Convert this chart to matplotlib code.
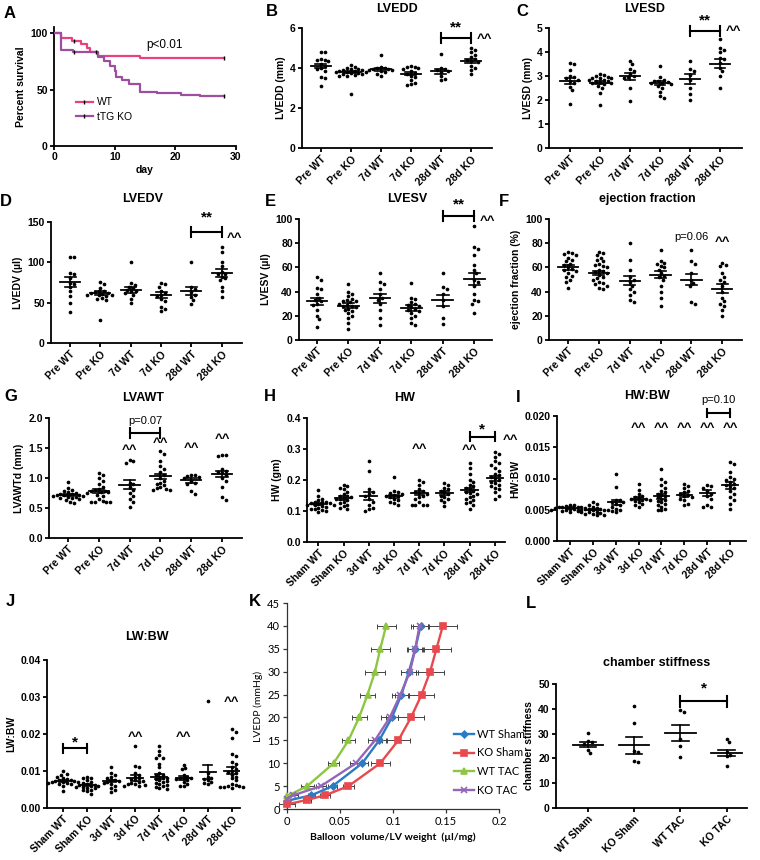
import numpy as np
import matplotlib
matplotlib.use("Agg")
import matplotlib.pyplot as plt
from matplotlib.lines import Line2D
from matplotlib.ticker import FuncFormatter

# ---------------- data ----------------
surv_wt_days = [0, 1.2, 3.0, 4.5, 5.4, 6.0, 7.2, 14.2, 28]
surv_wt_pct = [100, 96, 93, 90, 87, 83, 80, 78, 78]
surv_ko_days = [0, 1.2, 3.2, 7.2, 8.3, 9.2, 10.0, 10.3, 11.2, 12.3, 14.2, 17, 21, 24, 28]
surv_ko_pct = [100, 85, 83, 79, 75, 71, 66, 61, 58, 55, 48, 47, 45, 44, 44]
censor_wt_days = [3.3, 28]
censor_ko_days = [3.3, 7.0, 28]

echo_labels = ["Pre WT", "Pre KO", "7d WT", "7d KO", "28d WT", "28d KO"]
weight_labels = ["Sham WT", "Sham KO", "3d WT", "3d KO", "7d WT", "7d KO", "28d WT", "28d KO"]
stiff_labels = ["WT Sham", "KO Sham", "WT TAC", "KO TAC"]

# B  LVEDD
lvedd = [
    [4.8, 4.8, 4.45, 4.4, 4.4, 4.35, 4.2, 4.1, 4.0, 3.95, 3.85, 3.55, 3.5, 3.1],
    [4.15, 4.05, 4.0, 3.95, 3.95, 3.9, 3.9, 3.85, 3.85, 3.8, 3.8, 3.8, 3.75, 3.75, 3.7, 3.7, 3.65, 3.6, 3.6, 2.72],
    [4.65, 4.05, 4.0, 4.0, 3.95, 3.95, 3.9, 3.9, 3.85, 3.8, 3.7, 3.6],
    [4.1, 4.05, 4.05, 4.0, 3.95, 3.85, 3.75, 3.7, 3.6, 3.55, 3.4, 3.25, 3.2, 3.15],
    [4.68, 4.0, 3.95, 3.9, 3.85, 3.8, 3.6, 3.45, 3.4],
    [5.02, 4.9, 4.8, 4.65, 4.55, 4.45, 4.4, 4.35, 4.3, 4.1, 4.0, 3.9, 3.7],
]
lvedd_mean = [4.1, 3.8, 3.93, 3.72, 3.83, 4.35]
lvedd_sem = [0.12, 0.07, 0.08, 0.08, 0.13, 0.12]

# C  LVESD
lvesd = [
    [3.55, 3.48, 3.25, 3.0, 2.95, 2.9, 2.85, 2.8, 2.7, 2.55, 2.4, 1.85],
    [3.1, 3.05, 3.0, 2.95, 2.92, 2.9, 2.9, 2.85, 2.85, 2.8, 2.78, 2.75, 2.72, 2.7, 2.65, 2.6, 2.5, 2.3, 1.78],
    [3.62, 3.48, 3.3, 3.2, 3.1, 3.0, 2.95, 2.9, 2.5, 1.97],
    [3.4, 2.95, 2.85, 2.8, 2.78, 2.75, 2.72, 2.7, 2.65, 2.6, 2.5, 2.35, 2.15, 2.1],
    [3.62, 3.28, 3.2, 3.05, 2.85, 2.5, 2.25, 2.0],
    [4.55, 4.17, 4.1, 4.0, 3.75, 3.7, 3.55, 3.35, 3.2, 3.0, 2.5],
]
lvesd_mean = [2.8, 2.72, 2.98, 2.7, 2.88, 3.52]
lvesd_sem = [0.13, 0.07, 0.14, 0.08, 0.2, 0.17]

# D  LVEDV
lvedv = [
    [106, 106, 87, 86, 80, 75, 73, 70, 65, 58, 50, 38],
    [76, 73, 68, 65, 64, 63, 62, 62, 61, 60, 60, 59, 58, 56, 55, 53, 28],
    [100, 74, 72, 70, 68, 66, 65, 64, 62, 60, 55, 50],
    [74, 73, 70, 65, 62, 60, 58, 55, 52, 45, 42, 40],
    [101, 70, 67, 63, 60, 57, 53, 48],
    [119, 113, 100, 95, 88, 86, 85, 82, 80, 78, 70, 65, 57],
]
lvedv_mean = [75.5, 61.5, 66, 59.5, 64, 86.5]
lvedv_sem = [6, 2.5, 3.5, 3.2, 5, 5]

# E  LVESV
lvesv = [
    [52, 50, 43, 42, 38, 35, 33, 32, 30, 29, 25, 20, 17, 11],
    [46, 40, 38, 36, 34, 33, 32, 32, 31, 30, 29, 28, 28, 27, 26, 25, 24, 22, 20, 18, 14, 9.5],
    [55, 48, 46, 42, 38, 35, 33, 30, 25, 18, 12],
    [47.5, 35, 34, 31, 30, 29, 28, 27, 26, 25, 24, 22, 20, 18, 14, 12],
    [55, 44, 42, 38, 33, 28, 18, 13],
    [94.5, 77, 75, 70, 62, 58, 55, 50, 48, 45, 38, 33, 32, 30, 22],
]
lvesv_mean = [32, 28.5, 34.5, 26.5, 33, 50.5]
lvesv_sem = [3, 1.8, 3.8, 2.2, 4.5, 5]

# F  ejection fraction
ef = [
    [73, 72, 71, 70, 68, 66, 65, 63, 62, 60, 59, 58, 57, 55, 53, 52, 50, 48, 43],
    [73, 72, 70, 68, 66, 65, 63, 62, 61, 60, 58, 57, 56, 55, 54, 52, 51, 50, 48, 47, 46, 45, 43, 42],
    [80, 66, 58, 52, 50, 48, 45, 42, 40, 37, 33, 31],
    [74, 65, 64, 63, 61, 60, 58, 55, 53, 52, 50, 45, 40, 35, 28],
    [74, 65, 63, 55, 50, 47, 45, 31, 30],
    [64, 62, 61, 55, 52, 50, 48, 45, 40, 35, 32, 30, 28, 25, 20],
]
ef_mean = [60, 55.5, 49, 54, 50, 42.5]
ef_sem = [1.8, 1.8, 3.7, 3, 4.5, 3.8]

# G  LVAWTd
lvawt = [
    [0.94, 0.83, 0.8, 0.78, 0.76, 0.75, 0.74, 0.73, 0.72, 0.72, 0.71, 0.7, 0.7, 0.69, 0.68, 0.67, 0.66, 0.65, 0.63, 0.6, 0.58],
    [1.08, 1.05, 1.0, 0.95, 0.9, 0.85, 0.82, 0.8, 0.79, 0.78, 0.77, 0.76, 0.75, 0.72, 0.7, 0.65, 0.62, 0.6, 0.6, 0.6, 0.6],
    [1.3, 1.28, 1.25, 0.92, 0.9, 0.85, 0.8, 0.75, 0.7, 0.65, 0.6, 0.51],
    [1.45, 1.4, 1.28, 1.2, 1.15, 1.1, 1.05, 1.0, 0.95, 0.92, 0.9, 0.88, 0.85, 0.83, 0.82, 0.8, 0.8],
    [1.05, 1.05, 1.03, 1.02, 1.0, 0.95, 0.92, 0.9, 0.78, 0.74],
    [1.39, 1.38, 1.37, 1.15, 1.12, 1.1, 1.08, 1.05, 1.0, 0.95, 0.85, 0.68, 0.63],
]
lvawt_mean = [0.72, 0.78, 0.89, 1.03, 0.96, 1.07]
lvawt_sem = [0.02, 0.03, 0.07, 0.045, 0.04, 0.055]

# H  HW
hw = [
    [0.168, 0.15, 0.14, 0.135, 0.13, 0.128, 0.125, 0.123, 0.12, 0.118, 0.115, 0.112, 0.11, 0.108, 0.105, 0.102, 0.1, 0.098, 0.12, 0.13, 0.125],
    [0.185, 0.18, 0.175, 0.17, 0.16, 0.155, 0.15, 0.145, 0.14, 0.138, 0.135, 0.13, 0.125, 0.12, 0.115, 0.11, 0.108, 0.142, 0.148],
    [0.26, 0.23, 0.17, 0.16, 0.155, 0.15, 0.14, 0.13, 0.12, 0.11, 0.105, 0.1],
    [0.21, 0.165, 0.16, 0.158, 0.155, 0.152, 0.15, 0.148, 0.145, 0.14, 0.135, 0.13, 0.125, 0.12],
    [0.2, 0.195, 0.185, 0.17, 0.165, 0.16, 0.158, 0.155, 0.15, 0.145, 0.14, 0.13, 0.12, 0.12, 0.12, 0.12],
    [0.19, 0.185, 0.175, 0.17, 0.165, 0.16, 0.155, 0.15, 0.145, 0.14, 0.135, 0.13, 0.115],
    [0.255, 0.24, 0.22, 0.2, 0.195, 0.185, 0.18, 0.175, 0.17, 0.165, 0.16, 0.158, 0.155, 0.15, 0.145, 0.14, 0.135, 0.13, 0.125, 0.12, 0.105],
    [0.29, 0.285, 0.275, 0.26, 0.255, 0.25, 0.24, 0.23, 0.22, 0.215, 0.21, 0.205, 0.2, 0.195, 0.19, 0.185, 0.18, 0.175, 0.17, 0.16, 0.15, 0.14],
]
hw_mean = [0.123, 0.142, 0.148, 0.148, 0.158, 0.157, 0.168, 0.205]
hw_sem = [0.004, 0.005, 0.013, 0.005, 0.006, 0.006, 0.007, 0.009]

# I  HW:BW
hwbw = [
    [0.0058, 0.0057, 0.0056, 0.0055, 0.0055, 0.0054, 0.0054, 0.0053, 0.0053, 0.0052, 0.0052, 0.0051, 0.005, 0.005, 0.0049, 0.0048, 0.0047, 0.0046],
    [0.0063, 0.006, 0.0058, 0.0055, 0.0053, 0.0052, 0.0051, 0.005, 0.005, 0.0049, 0.0048, 0.0048, 0.0047, 0.0046, 0.0045, 0.0044, 0.0043, 0.0042, 0.0041, 0.0052, 0.0049],
    [0.0107, 0.0086, 0.0066, 0.0065, 0.0063, 0.0062, 0.006, 0.0058, 0.0055, 0.0052, 0.0049, 0.0046],
    [0.0092, 0.0082, 0.0075, 0.0072, 0.007, 0.0069, 0.0068, 0.0067, 0.0066, 0.0065, 0.0064, 0.0062, 0.006, 0.0058, 0.0055],
    [0.0115, 0.0099, 0.0095, 0.009, 0.0085, 0.008, 0.0078, 0.0076, 0.0074, 0.0072, 0.007, 0.0068, 0.0066, 0.0064, 0.0062, 0.006, 0.0058, 0.0055, 0.0052, 0.005, 0.0049],
    [0.0091, 0.0088, 0.0085, 0.008, 0.0078, 0.0075, 0.0073, 0.0072, 0.007, 0.0068, 0.0065, 0.006, 0.0057],
    [0.0089, 0.0088, 0.0085, 0.008, 0.0075, 0.0072, 0.0068, 0.0058, 0.0055, 0.0055],
    [0.0126, 0.0124, 0.011, 0.0102, 0.0099, 0.0098, 0.0095, 0.0092, 0.009, 0.0088, 0.0085, 0.008, 0.0075, 0.007, 0.0065, 0.006, 0.0052],
]
hwbw_mean = [0.0053, 0.005, 0.0062, 0.0068, 0.0072, 0.0074, 0.0077, 0.0089]
hwbw_sem = [0.0001, 0.0001, 0.0004, 0.0002, 0.0004, 0.0003, 0.0005, 0.0005]

# J  LW:BW
lwbw = [
    [0.0099, 0.0092, 0.009, 0.0085, 0.008, 0.0078, 0.0076, 0.0075, 0.0073, 0.0072, 0.0071, 0.007, 0.0069, 0.0068, 0.0067, 0.0066, 0.0065, 0.006, 0.0045],
    [0.0085, 0.0082, 0.008, 0.0075, 0.007, 0.0068, 0.0065, 0.0063, 0.0062, 0.006, 0.0059, 0.0058, 0.0056, 0.0055, 0.0053, 0.005, 0.0048, 0.0045, 0.0039],
    [0.011, 0.0095, 0.0088, 0.0085, 0.008, 0.0077, 0.0075, 0.0073, 0.007, 0.0068, 0.0065, 0.006, 0.0055, 0.005, 0.0042],
    [0.0168, 0.0113, 0.011, 0.0095, 0.009, 0.0085, 0.008, 0.0078, 0.0075, 0.0072, 0.007, 0.0068, 0.0066, 0.0065, 0.0063, 0.006, 0.006],
    [0.0168, 0.0155, 0.0142, 0.0135, 0.0135, 0.012, 0.011, 0.0095, 0.009, 0.0088, 0.0085, 0.0082, 0.008, 0.0078, 0.0075, 0.0072, 0.007, 0.0068, 0.0065, 0.0062, 0.006, 0.0058, 0.0055, 0.0052],
    [0.0117, 0.0108, 0.0105, 0.009, 0.0085, 0.0082, 0.008, 0.008, 0.0078, 0.0075, 0.007, 0.0065, 0.006, 0.006],
    [0.029, 0.0095, 0.0085, 0.008, 0.0078, 0.0075, 0.007, 0.0067, 0.0065],
    [0.0213, 0.0205, 0.019, 0.0145, 0.014, 0.0125, 0.012, 0.011, 0.0105, 0.01, 0.0098, 0.0095, 0.009, 0.0085, 0.008, 0.0075, 0.0065, 0.0062, 0.006, 0.006, 0.0058, 0.0058, 0.0056, 0.0055],
]
lwbw_mean = [0.0072, 0.0062, 0.0073, 0.0081, 0.0085, 0.0082, 0.0097, 0.0101]
lwbw_sem = [0.0003, 0.0003, 0.0004, 0.0007, 0.0006, 0.0005, 0.0018, 0.0009]

# K  pressure-volume curves
k_wt_sham_vol = [0.0, 0.023, 0.043, 0.071, 0.087, 0.099, 0.108, 0.115, 0.121, 0.126]
k_wt_sham_p = [1.8, 3, 5, 10, 15, 20, 25, 30, 35, 40]
k_wt_sham_err = [0.0, 0.003, 0.004, 0.005, 0.006, 0.006, 0.006, 0.007, 0.007, 0.007]
k_ko_sham_vol = [0.0, 0.019, 0.036, 0.058, 0.088, 0.105, 0.117, 0.127, 0.135, 0.141, 0.147]
k_ko_sham_p = [1, 2, 3, 5, 10, 15, 20, 25, 30, 35, 40]
k_ko_sham_err = [0.008, 0.004, 0.005, 0.005, 0.009, 0.011, 0.012, 0.012, 0.013, 0.014, 0.013]
k_wt_tac_vol = [0.0, 0.019, 0.044, 0.058, 0.068, 0.076, 0.083, 0.088, 0.0935]
k_wt_tac_p = [2.8, 5, 10, 15, 20, 25, 30, 35, 40]
k_wt_tac_err = [0.0, 0.006, 0.005, 0.006, 0.007, 0.007, 0.009, 0.009, 0.009]
k_ko_tac_vol = [0.0, 0.006, 0.032, 0.065, 0.083, 0.097, 0.107, 0.116, 0.121, 0.125]
k_ko_tac_p = [2.2, 3, 5, 10, 15, 20, 25, 30, 35, 40]
k_ko_tac_err = [0.0, 0.004, 0.005, 0.006, 0.007, 0.008, 0.008, 0.008, 0.008, 0.008]
k_names = ["WT Sham", "KO Sham", "WT TAC", "KO TAC"]

# L  chamber stiffness
stiff = [
    [30.2, 27.0, 26.5, 26.0, 23.5, 22.2],
    [41, 34.3, 23, 22.5, 19, 18.4],
    [39.6, 38.6, 27.8, 24.9, 20.6],
    [27.8, 26.5, 22.5, 21.5, 21, 16.8],
]
stiff_mean = [25.6, 25.3, 30.2, 22.0]
stiff_sem = [1.2, 3.4, 3.1, 1.2]

# ---------------- figure ----------------
plt.rcParams['font.family'] = ['Liberation Sans', 'DejaVu Sans']
plt.rcParams['font.weight'] = 'bold'
plt.rcParams['axes.labelweight'] = 'bold'

W, H = 760, 860
fig = plt.figure(figsize=(W / 100, H / 100), dpi=100)
fig.patch.set_facecolor('white')

TICK_FS = 7.5
LAB_FS = 7.5


def add_ax(l, r, t, b):
    return fig.add_axes([l / W, 1 - b / H, (r - l) / W, (b - t) / H])


def ftext(x, y, s, **kw):
    kw.setdefault('ha', 'center')
    kw.setdefault('va', 'center')
    fig.text(x / W, 1 - y / H, s, **kw)


def style(ax, lw=1.3):
    for s in ['top', 'right']:
        ax.spines[s].set_visible(False)
    for s in ['left', 'bottom']:
        ax.spines[s].set_linewidth(lw)
    ax.tick_params(direction='out', length=3, width=lw, labelsize=TICK_FS, pad=1.5)
    for t in ax.get_xticklabels() + ax.get_yticklabels():
        t.set_fontweight('bold')


def swarm_x(ax, xc, vals, d=3.8):
    vals = np.asarray(vals, float)
    pts = ax.transData.transform(np.column_stack([np.full(len(vals), xc), vals]))
    x0 = pts[0, 0]
    ys = pts[:, 1]
    order = np.argsort(-ys)
    cands = [0.0]
    for k in range(1, 80):
        cands += [k * d / 2, -k * d / 2]
    placed = []
    xo = np.zeros(len(vals))
    for i in order:
        for c in cands:
            ok = True
            for (px, py) in placed:
                if (px - c) ** 2 + (py - ys[i]) ** 2 < (d * 0.97) ** 2:
                    ok = False
                    break
            if ok:
                break
        placed.append((c, ys[i]))
        xo[i] = c
    inv = ax.transData.inverted()
    return inv.transform(np.column_stack([x0 + xo, ys]))[:, 0]


def dot_panel(ax, groups, means, sems, labels, xlim, ylim, yticks, ylabel, yfmt=None):
    ax.set_xlim(*xlim)
    ax.set_ylim(*ylim)
    ax.set_yticks(yticks)
    if yfmt:
        ax.yaxis.set_major_formatter(FuncFormatter(lambda v, p: yfmt.format(v)))
    ax.set_xticks(range(len(labels)))
    ax.set_xticklabels(labels, rotation=45, ha='right', rotation_mode='anchor')
    style(ax)
    ax.set_ylabel(ylabel, fontsize=LAB_FS, fontweight='bold', labelpad=3)
    for i, vals in enumerate(groups):
        xs = swarm_x(ax, i, vals)
        ax.scatter(xs, vals, s=7, c='k', lw=0, zorder=3, clip_on=False)
        m, se = means[i], sems[i]
        ax.plot([i - 0.33, i + 0.33], [m, m], color='k', lw=1.3, zorder=4)
        ax.plot([i, i], [m - se, m + se], color='k', lw=1.2, zorder=4)
        for yy in (m - se, m + se):
            ax.plot([i - 0.18, i + 0.18], [yy, yy], color='k', lw=1.2, zorder=4)


def bracket(ax, x1, x2, y, h, txt, ty, fs=11):
    ax.plot([x1, x2], [y, y], color='k', lw=1.5, clip_on=False)
    for x in (x1, x2):
        ax.plot([x, x], [y - h, y + h], color='k', lw=1.5, clip_on=False)
    ax.text((x1 + x2) / 2, ty, txt, ha='center', va='center', fontsize=fs,
            fontweight='bold', clip_on=False)


def carets(ax, x, y, fs=9.5):
    ax.text(x, y, '^^', ha='center', va='center', fontsize=fs, fontweight='bold', clip_on=False)


# ---------- A survival ----------
axA = add_ax(54, 236, 27.4, 146)
wt_col, ko_col = '#e8417f', '#9b4f9e'
axA.step(surv_wt_days, surv_wt_pct, where='post', color=wt_col, lw=1.6, zorder=3)
axA.step(surv_ko_days, surv_ko_pct, where='post', color=ko_col, lw=1.6, zorder=3)


def surv_at(days, pct, t):
    idx = np.searchsorted(days, t, side='right') - 1
    return pct[idx]


axA.plot(censor_wt_days, [surv_at(surv_wt_days, surv_wt_pct, t) for t in censor_wt_days],
         ls='none', marker='|', ms=3, mew=1, color='k', zorder=4)
axA.plot(censor_ko_days, [surv_at(surv_ko_days, surv_ko_pct, t) for t in censor_ko_days],
         ls='none', marker='|', ms=3, mew=1, color='k', zorder=4)
axA.set_xlim(0, 30)
axA.set_ylim(0, 105)
axA.set_xticks([0, 10, 20, 30])
axA.set_yticks([0, 50, 100])
style(axA)
axA.set_ylabel('Percent survival', fontsize=LAB_FS, labelpad=3)
axA.set_xlabel('day', fontsize=LAB_FS, labelpad=2)
axA.text(0.61, 0.85, 'p<0.01', transform=axA.transAxes, fontsize=8.5, fontweight='normal',
         ha='center', va='center')
hA = [Line2D([0], [0], color=wt_col, lw=1.6, marker='|', mec='k', ms=3),
      Line2D([0], [0], color=ko_col, lw=1.6, marker='|', mec='k', ms=3)]
legA = axA.legend(hA, ['WT', 'tTG KO'], loc='upper left', bbox_to_anchor=(0.12, 0.41),
                  frameon=False, fontsize=7.5, handlelength=1.6, handletextpad=0.4,
                  labelspacing=0.45, borderpad=0, borderaxespad=0)
for t in legA.get_texts():
    t.set_fontweight('normal')

# ---------- B LVEDD ----------
axB = add_ax(302, 492, 28, 148)
dot_panel(axB, lvedd, lvedd_mean, lvedd_sem, echo_labels, (-0.63, 5.71), (0, 6), [0, 2, 4, 6], 'LVEDD (mm)')
bracket(axB, 4, 5, 5.5, 0.25, '**', 6.05)
carets(axB, 5.45, 5.45)

# ---------- C LVESD ----------
axC = add_ax(549, 742, 28, 148)
dot_panel(axC, lvesd, lvesd_mean, lvesd_sem, echo_labels, (-0.7, 5.73), (0, 5), [0, 1, 2, 3, 4, 5], 'LVESD (mm)')
bracket(axC, 4, 5, 4.87, 0.2, '**', 5.33)
carets(axC, 5.43, 4.87)

# ---------- D LVEDV ----------
axD = add_ax(51, 242, 222, 343)
dot_panel(axD, lvedv, lvedv_mean, lvedv_sem, echo_labels, (-0.63, 5.67), (0, 150), [0, 50, 100, 150], 'LVEDV (µl)')
bracket(axD, 4, 5, 137.6, 6, '**', 155)
carets(axD, 5.43, 130)

# ---------- E LVESV ----------
axE = add_ax(299, 492, 219, 340)
dot_panel(axE, lvesv, lvesv_mean, lvesv_sem, echo_labels, (-0.57, 5.56), (0, 100), [0, 20, 40, 60, 80, 100], 'LVESV (µl)')
bracket(axE, 4, 5, 102.5, 4, '**', 111.6)
carets(axE, 5.4, 98.3)

# ---------- F ejection fraction ----------
axF = add_ax(549, 742, 219, 340)
dot_panel(axF, ef, ef_mean, ef_sem, echo_labels, (-0.62, 5.64), (0, 100), [0, 20, 40, 60, 80, 100], 'ejection fraction (%)')
axF.text(4, 85, 'p=0.06', ha='center', va='center', fontsize=8, fontweight='normal')
carets(axF, 5, 81)

# ---------- G LVAWTd ----------
axG = add_ax(49, 242, 418, 538)
dot_panel(axG, lvawt, lvawt_mean, lvawt_sem, echo_labels, (-0.62, 5.65), (0, 2.0), [0, 0.5, 1.0, 1.5, 2.0], 'LVAWTd (mm)', '{:.1f}')
bracket(axG, 2, 3, 1.75, 0.08, 'p=0.07', 1.95, fs=8)
axG.texts[-1].set_fontweight('normal')
carets(axG, 2, 1.47)
carets(axG, 3, 1.58)
carets(axG, 4, 1.5)
carets(axG, 5, 1.65)

# ---------- H HW ----------
axH = add_ax(307, 505, 418, 542)
dot_panel(axH, hw, hw_mean, hw_sem, weight_labels, (-0.45, 7.4), (0, 0.4), [0, 0.1, 0.2, 0.3, 0.4], 'HW (gm)', '{:.1f}')
bracket(axH, 6, 7, 0.34, 0.015, '*', 0.362)
carets(axH, 4, 0.30)
carets(axH, 6, 0.298)
carets(axH, 7.6, 0.33)

# ---------- I HW:BW ----------
axI = add_ax(557, 746, 416, 541)
dot_panel(axI, hwbw, hwbw_mean, hwbw_sem, weight_labels, (-0.57, 7.7), (0, 0.02), [0, 0.005, 0.01, 0.015, 0.02], 'HW:BW', '{:.3f}')
bracket(axI, 6, 7, 0.0205, 0.0007, 'p=0.10', 0.0225, fs=8)
axI.texts[-1].set_fontweight('normal')
for k in range(3, 8):
    carets(axI, k, 0.0181)

# ---------- J LW:BW ----------
axJ = add_ax(47, 240, 660, 808)
dot_panel(axJ, lwbw, lwbw_mean, lwbw_sem, weight_labels, (-0.66, 7.34), (0, 0.04), [0, 0.01, 0.02, 0.03, 0.04], 'LW:BW', '{:.2f}')
bracket(axJ, 0, 1, 0.0162, 0.0012, '*', 0.0178)
carets(axJ, 3, 0.0192)
carets(axJ, 5, 0.0192)
carets(axJ, 7, 0.0286)

# ---------- K P-V curves ----------
axK = add_ax(287, 499, 603, 809)
k_series = [
    (k_wt_sham_vol, k_wt_sham_p, k_wt_sham_err, '#2a7bc4', 'D', 3.4),
    (k_ko_sham_vol, k_ko_sham_p, k_ko_sham_err, '#e8494e', 's', 4.5),
    (k_wt_tac_vol, k_wt_tac_p, k_wt_tac_err, '#8dc641', '^', 4.5),
    (k_ko_tac_vol, k_ko_tac_p, k_ko_tac_err, '#9466b8', 'x', 4.2),
]
handles = []
for (v, p, e, col, mk, ms), name in zip(k_series, k_names):
    axK.errorbar(v, p, xerr=e, fmt='none', ecolor='#444444', elinewidth=0.7, capsize=1.8,
                 capthick=0.7, zorder=2, clip_on=False)
    ln, = axK.plot(v, p, color=col, lw=1.7, marker=mk, ms=ms, mec=col, mfc=col, mew=1.2,
                   zorder=3, clip_on=False, label=name)
    handles.append(ln)
axK.set_xlim(0, 0.2)
axK.set_ylim(0, 45)
axK.set_xticks([0, 0.05, 0.1, 0.15, 0.2])
axK.set_yticks(range(0, 50, 5))
axK.xaxis.set_major_formatter(FuncFormatter(lambda v, p: '0' if v == 0 else ('%g' % v)))
for s in ['top', 'right']:
    axK.spines[s].set_visible(False)
for s in ['left', 'bottom']:
    axK.spines[s].set_linewidth(0.9)
    axK.spines[s].set_color('#333333')
axK.tick_params(direction='out', length=3, width=0.9, color='#333333', labelsize=8, pad=2)
for t in axK.get_xticklabels() + axK.get_yticklabels():
    t.set_family(['Lato', 'DejaVu Sans'])
    t.set_fontweight('normal')
axK.set_ylabel('LVEDP (mmHg)', fontsize=7.5, fontweight='normal', family=['Lato', 'DejaVu Sans'], labelpad=3)
axK.set_xlabel('Balloon  volume/LV weight  (µl/mg)', fontsize=7.5, fontweight='bold',
               family=['Lato', 'DejaVu Sans'], labelpad=4)
legK = axK.legend(handles, k_names, loc='upper left', bbox_to_anchor=(0.79, 0.39), frameon=False,
                  handlelength=1.8, handletextpad=0.2, labelspacing=0.7,
                  borderpad=0, borderaxespad=0, prop={'family': ['Lato', 'DejaVu Sans'], 'size': 8})
for t in legK.get_texts():
    t.set_fontweight('normal')

# ---------- L chamber stiffness ----------
axL = add_ax(556, 747, 684, 808)
dot_panel(axL, stiff, stiff_mean, stiff_sem, stiff_labels, (-0.69, 3.44), (0, 50), [0, 10, 20, 30, 40, 50], 'chamber stiffness')
bracket(axL, 2, 3, 43.1, 2.2, '*', 48)

# ---------- titles & panel letters ----------
titles = [("LVEDD", 397, 9), ("LVESD", 645, 9), ("LVEDV", 143, 199), ("LVESV", 407, 199),
          ("ejection fraction", 647, 199), ("LVAWT", 143, 398), ("HW", 405, 398),
          ("HW:BW", 647, 396), ("LW:BW", 147, 637), ("chamber stiffness", 657, 663)]
for s, x, y in titles:
    ftext(x, y, s, fontsize=9, fontweight='bold')

letters = [("A", 10, 14), ("B", 272, 12), ("C", 522, 12), ("D", 6, 201), ("E", 270, 201),
           ("F", 504, 201), ("G", 11, 396), ("H", 270, 396), ("I", 518, 397), ("J", 10, 602),
           ("K", 255, 602), ("L", 531, 603)]
for s, x, y in letters:
    ftext(x, y, s, fontsize=12, fontweight='bold')

fig.savefig('out.png', dpi=100, facecolor='white')
